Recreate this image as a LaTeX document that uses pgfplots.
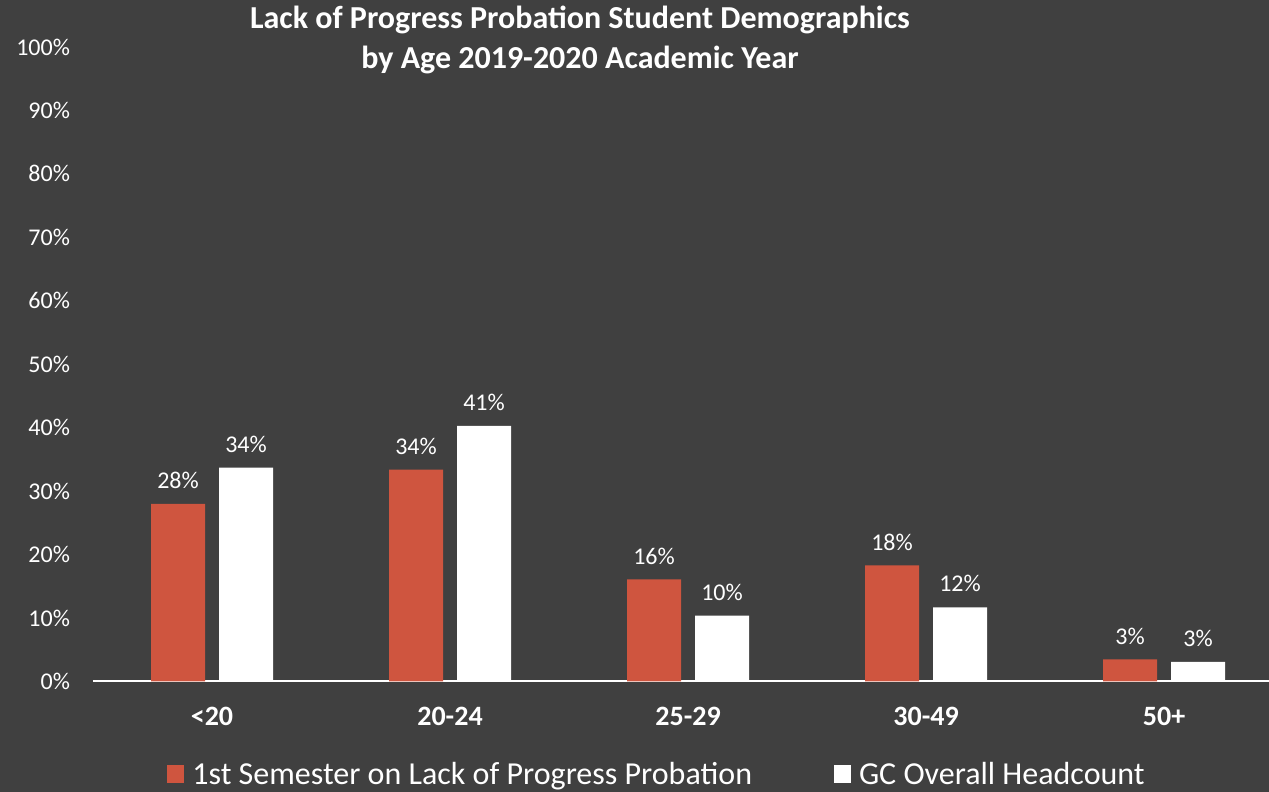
\documentclass[border=0pt]{standalone}
\usepackage{fontspec}
\setmainfont{Carlito}
\usepackage{pgfplots}
\pgfplotsset{compat=1.18}
\definecolor{bg}{HTML}{404040}
\definecolor{barred}{HTML}{CF553F}
\begin{document}
\begin{tikzpicture}
\fill[bg] (0,0) rectangle (634.5pt,396pt);
\node[text=white, align=center, font=\fontsize{16}{20}\selectfont\bfseries] at (290pt,376pt) {Lack of Progress Probation Student Demographics\\by Age 2019-2020 Academic Year};
\begin{axis}[
  at={(46.5pt,55.25pt)}, anchor=south west,
  scale only axis, width=588pt, height=317.25pt,
  ybar=7pt, bar width=27pt,
  xmin=-0.5, xmax=4.441, ymin=0, ymax=100,
  xtick={0,1,2,3,4}, xticklabels={<20,20-24,25-29,30-49,50+},
  ytick={0,10,...,100}, yticklabel={\pgfmathprintnumber{\tick}\%},
  /pgf/number format/assume math mode=true,
  axis x line*=bottom, axis y line*=left,
  x axis line style={white, line width=1pt, -},
  y axis line style={draw=none},
  major tick length=0pt,
  yticklabel style={font=\fontsize{12}{14}\selectfont, text=white, xshift=-8pt},
  xticklabel style={font=\fontsize{14}{16}\selectfont\bfseries, text=white, yshift=-9.5pt},
  point meta=explicit symbolic,
  nodes near coords,
  every node near coord/.append style={font=\fontsize{12}{14}\selectfont, text=white, yshift=4pt},
  legend style={at={(0.4805,-0.1465)}, anchor=center, draw=none, fill=none, text=white,
    font=\fontsize{16}{19}\selectfont, legend columns=2,
    /tikz/every odd column/.append style={column sep=2pt},
    /tikz/every even column/.append style={column sep=39pt}},
  legend image code/.code={\path[#1] (0pt,-4.5pt) rectangle (8.5pt,4.5pt);},
]
\addplot[fill=barred, draw=none] coordinates {(0,28.0) [28\%] (1,33.4) [34\%] (2,16.1) [16\%] (3,18.3) [18\%] (4,3.5) [3\%]};
\addplot[fill=white, draw=none] coordinates {(0,33.7) [34\%] (1,40.3) [41\%] (2,10.4) [10\%] (3,11.7) [12\%] (4,3.1) [3\%]};
\legend{1st Semester on Lack of Progress Probation, GC Overall Headcount}
\end{axis}
\pgfresetboundingbox
\path[use as bounding box] (0,0) rectangle (634.5pt,396pt);
\end{tikzpicture}
\end{document}
